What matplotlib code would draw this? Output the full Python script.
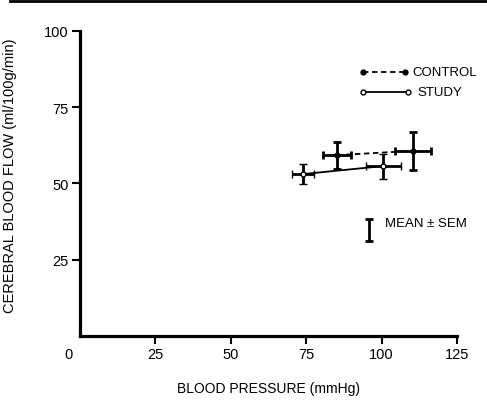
import matplotlib.pyplot as plt
import matplotlib.transforms as mtransforms
from matplotlib.lines import Line2D

plt.rcParams['font.family'] = ['Liberation Sans', 'DejaVu Sans']

# means and SEMs
control_bp = [85.2, 110.4]
control_cbf = [59.3, 60.7]
control_bp_sem = [4.5, 6.0]
control_cbf_sem = [4.4, 6.2]

study_bp = [74.0, 100.5]
study_cbf = [53.1, 55.7]
study_bp_sem = [3.6, 5.8]
study_cbf_sem = [3.3, 4.1]

x_ticks = [0, 25, 50, 75, 100, 125]
y_ticks = [25, 50, 75, 100]

fig = plt.figure(figsize=(4.87, 4.02), dpi=100)
ax = fig.add_axes([0.1643, 0.1617, 0.774, 0.7587])

ebkw = dict(ecolor='black', elinewidth=2, capsize=3, capthick=2, zorder=3)

# control: dashed line, filled dots
ax.plot(control_bp, control_cbf, color='black', lw=1.3, ls=(0, (3, 2)), zorder=2)
ax.errorbar(control_bp, control_cbf, xerr=control_bp_sem, yerr=control_cbf_sem,
            fmt='o', ms=3.5, mfc='black', mec='black', **ebkw)

# study: solid line, open dots
ax.plot(study_bp, study_cbf, color='black', lw=1.3, zorder=2)
ax.errorbar(study_bp, study_cbf, xerr=study_bp_sem, yerr=study_cbf_sem,
            fmt='o', ms=3.5, mfc='white', mec='black', mew=1, **ebkw)

ax.set_xlim(0, 125)
ax.set_ylim(0, 100)
ax.set_xticks(x_ticks)
ax.set_yticks(y_ticks)
ax.tick_params(direction='out', length=6, width=1.5, labelsize=10.5, pad=2)
for s in ['top', 'right']:
    ax.spines[s].set_visible(False)
for s in ['left', 'bottom']:
    ax.spines[s].set_linewidth(2.3)

# shared origin "0" sits a bit left of the corner
lbl0 = ax.get_xticklabels()[0]
lbl0.set_transform(lbl0.get_transform() + mtransforms.ScaledTranslation(-0.12, 0, fig.dpi_scale_trans))
ax.xaxis.get_major_ticks()[0].tick1line.set_visible(False)

ax.set_xlabel('BLOOD PRESSURE (mmHg)', fontsize=10, labelpad=14)
ax.set_ylabel('CEREBRAL BLOOD FLOW (ml/100g/min)', fontsize=10.5)
ax.yaxis.set_label_coords(-0.167, 0.528)

# hand-drawn key
tr = ax.transAxes
ax.add_line(Line2D([0.751, 0.862], [0.866, 0.866], transform=tr, color='black',
                   lw=1.3, ls=(0, (3, 2)), marker='o', ms=3.5, mfc='black', mec='black'))
ax.text(0.883, 0.866, 'CONTROL', transform=tr, fontsize=9.5, va='center')
ax.add_line(Line2D([0.751, 0.870], [0.801, 0.801], transform=tr, color='black',
                   lw=1.3, marker='o', ms=3.5, mfc='white', mec='black'))
ax.text(0.894, 0.801, 'STUDY', transform=tr, fontsize=9.5, va='center')
ax.errorbar([0.766], [0.347], yerr=[0.036], transform=tr, fmt='none', **ebkw)
ax.text(0.81, 0.37, 'MEAN \u00b1 SEM', transform=tr, fontsize=9.5, va='center')

# page rule at the top
fig.add_artist(Line2D([0.02, 1.0], [0.995, 0.995], color='black', lw=2))

fig.savefig('out.png', dpi=100)
